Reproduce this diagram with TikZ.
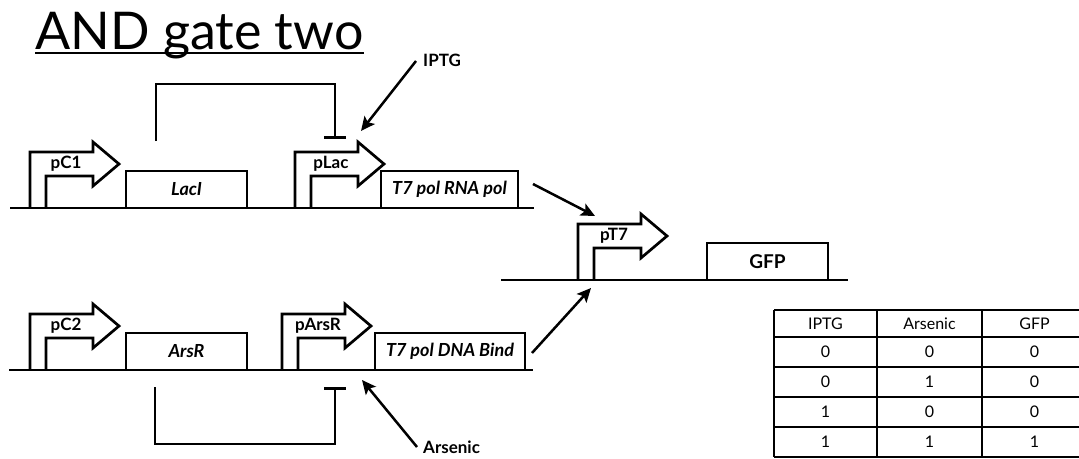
\documentclass[tikz,border=0pt]{standalone}
\usepackage{fontspec}
\setmainfont{Lato}
\usetikzlibrary{arrows.meta,positioning,calc}
\newcommand{\tfs}[1]{\fontsize{#1}{#1}\selectfont}
% promoter: name, x, y of the base, label
\newcommand{\prom}[4]{%
\begin{scope}[shift={(#2,#3)}]
\draw[dna] (0,0) -- (0,-56) -- (63,-56) -- (63,-66) -- (89,-44) -- (63,-22) -- (63,-32) -- (16,-32) -- (16,0);
\node[promtext] (#1) at (36,-44) {#4};
\end{scope}}

\begin{document}
\begin{tikzpicture}[x=1pt,y=-1pt,
  dna/.style={line width=2.7pt,line join=miter},
  promtext/.style={inner sep=0pt,font=\tfs{17}\bfseries},
  genebox/.style={draw,line width=2.7pt,inner sep=0pt,outer sep=0pt,anchor=south west,minimum height=37pt,font=\tfs{18}\bfseries\itshape},
  repress/.style={line width=2.7pt,-{Bar[width=22pt]}},
  sig/.style={line width=2.5pt,-{Stealth[length=14pt,width=13pt,inset=3pt]}},
  inducer/.style={inner sep=0pt,font=\tfs{17}\bfseries},
  cell/.style={inner sep=0pt,font=\tfs{16}},
  grid/.style={line width=1.8pt}]
\useasboundingbox (0,0) rectangle (1079,458);
\node[anchor=base west,inner sep=0pt,font=\tfs{52}] (title) at (35,49) {AND gate two};
\draw[line width=2pt] ([yshift=-4pt]title.base west) -- ([yshift=-4pt]title.base east);
%
% top cassette
\draw[dna] (10,208) -- (534,208);
\prom{pC1}{30}{208}{pC1}
\prom{pLac}{295}{208}{pLac}
\node[genebox,minimum width=121pt] (lacI)   at (126,208) {LacI};
\node[genebox,minimum width=137pt] (rnaPol) at (381,208) {T7 pol RNA pol};
%
% bottom cassette
\draw[dna] (9,370) -- (533,370);
\prom{pC2}{30}{370}{pC2}
\prom{pArsR}{282}{370}{pArsR}
\node[genebox,minimum width=121pt] (arsR)    at (126,370) {ArsR};
\node[genebox,minimum width=150pt] (dnaBind) at (375,370) {T7 pol DNA Bind};
%
% output
\draw[dna] (501,280) -- (848,280);
\prom{pT7}{578}{280}{pT7}
\node[genebox,minimum width=121pt,font=\tfs{19}\bfseries] (gfp) at (707,280) {GFP};
%
% repression
\coordinate (lacIOut) at (156,141);
\coordinate (pLacOp)  at (335,139);
\coordinate (arsROut) at (155,387);
\coordinate (pArsOp)  at (335,387);
\draw[repress] (lacIOut) -- ++(0,-57) -| (pLacOp);
\draw[repress] (arsROut) -- ++(0,57) -| (pArsOp);
%
% inducers and activation
\coordinate (iptgTail) at (416,61);
\coordinate (lacSite)  at (361,131);
\coordinate (arsTail)  at (417,447);
\coordinate (arsSite)  at (362,380);
\coordinate (polTail)  at (533,184);
\coordinate (bindTail) at (532,353);
\coordinate (t7SiteA)  at (595,216);
\coordinate (t7SiteB)  at (591,288);
\node[inducer,anchor=west] (iptg) at (423,60.5) {IPTG};
\node[inducer,anchor=base west] (arsenic) at (423,453) {Arsenic};
\draw[sig] (iptgTail) -- (lacSite);
\draw[sig] (arsTail) -- (arsSite);
\draw[sig] (polTail) -- (t7SiteA);
\draw[sig] (bindTail) -- (t7SiteB);
%
% truth table
\foreach \y in {310,337,367,397,427,457}
  \draw[grid] (774,\y) -- (1087,\y);
\foreach \x in {774,877,982,1087}
  \draw[grid] (\x,310) -- (\x,457);
\foreach \a/\b/\c/\y [count=\r] in {IPTG/Arsenic/GFP/323.5, 0/0/0/352, 0/1/0/382, 1/0/0/412, 1/1/1/442} {
  \node[cell] (in1-\r) at (825.5,\y) {\a};
  \node[cell] (in2-\r) at (929.5,\y) {\b};
  \node[cell] (out-\r) at (1034.5,\y) {\c};
}
\end{tikzpicture}
\end{document}
